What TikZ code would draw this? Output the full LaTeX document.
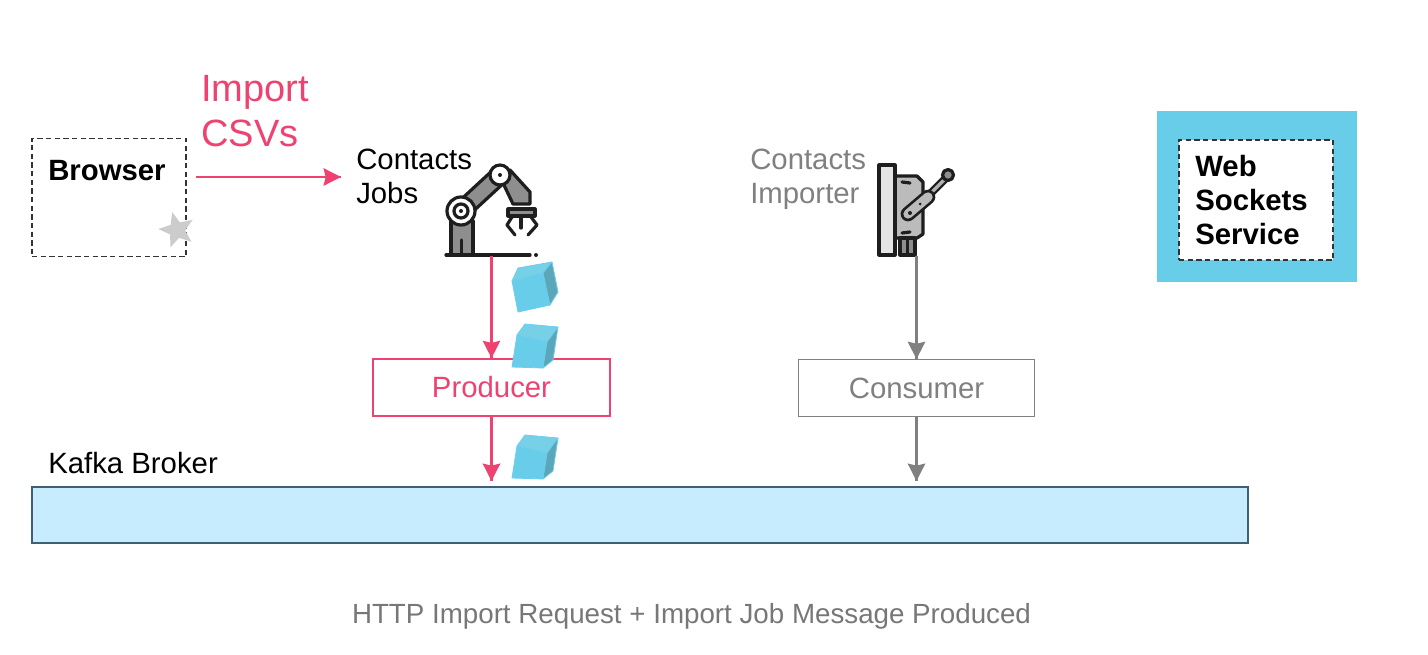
\documentclass[tikz,border=0pt]{standalone}
\usepackage{fontspec}
\setmainfont{Liberation Sans}
\usepackage{tikz}
\usetikzlibrary{arrows.meta,decorations.markings,shapes.geometric}
\definecolor{hotpink}{HTML}{EE4270}
\definecolor{midgray}{HTML}{808080}
\definecolor{capgray}{HTML}{777777}
\definecolor{skyblue}{HTML}{67CDE8}
\definecolor{cubetop}{HTML}{76D0E6}
\definecolor{cubeside}{HTML}{5BA6B8}
\definecolor{cubeedge}{HTML}{6CCDF2}
\definecolor{kafkablue}{HTML}{C7ECFD}
\definecolor{kafkaedge}{HTML}{3F5F73}
\definecolor{iconink}{HTML}{1E1E1E}
\definecolor{icongray}{HTML}{8E8E8E}
\tikzstyle{label}=[inner sep=0pt, font=\fontsize{22pt}{25.5pt}\selectfont, align=left]
\tikzstyle{dashbox}=[draw=black!80, dashed, dash pattern=on 4pt off 2.5pt, line width=0.8pt, fill=white]
\tikzstyle{stagebox}=[draw, inner sep=0pt, minimum width=177.5pt, minimum height=42.5pt, font=\fontsize{22pt}{25pt}\selectfont]
\tikzstyle{pinkline}=[color=hotpink, line width=1.9pt]
\tikzstyle{grayline}=[color=midgray, line width=1.9pt]
\tikzstyle{ink}=[draw=iconink, line width=2.4pt, line join=round, line cap=round]
\tikzstyle{cubeface}=[draw=cubeedge, line width=0.6pt, line join=round]
\tikzset{
    cubeshape/.pic={
        \draw[cubeface, fill=skyblue] (0,0) -- (30,7) -- (26,33) -- (-5,32) -- cycle;
        \draw[cubeface, fill=cubetop] (0,0) -- (8,-11) -- (41,-8) -- (30,7) -- cycle;
        \draw[cubeface, fill=cubeside] (30,7) -- (41,-8) -- (36,25) -- (26,33) -- cycle;
    },
    tiltcube/.pic={
        \draw[cubeface, fill=skyblue] (0,0) -- (31,-8) -- (38,24) -- (6,31) -- cycle;
        \draw[cubeface, fill=cubetop] (0,0) -- (6,-13) -- (40,-19) -- (31,-8) -- cycle;
        \draw[cubeface, fill=cubeside] (31,-8) -- (40,-19) -- (46,11) -- (38,24) -- cycle;
    }
}
\begin{document}
\begin{tikzpicture}[x=0.75pt, y=-0.75pt,
    every edge/.style={
        draw,
        postaction={decorate,
                    decoration={markings,mark=at position 1 with {\arrow{Stealth[length=13pt,width=13pt,inset=1.5pt]}}}
                   }
        }
]
\useasboundingbox (0,0) rectangle (1428,654);
% boxes
\node[draw=kafkaedge, line width=1pt, fill=kafkablue, inner sep=0pt, minimum width=912pt, minimum height=42pt] (kafka) at (640,515) {};
\node[stagebox, draw=hotpink, line width=1.5pt, text=hotpink] (producer) at (491.5,387.5) {Producer};
\node[stagebox, draw=midgray, line width=0.8pt, text=midgray] (consumer) at (916.5,388) {Consumer};
\node[dashbox, inner sep=0pt, minimum width=115.5pt, minimum height=89pt] (browser) at (109,197.5) {};
\node[fill=skyblue, inner sep=0pt, minimum width=150pt, minimum height=128pt] (wsback) at (1257,196.5) {};
\node[dashbox, inner sep=0pt, minimum width=115.5pt, minimum height=90pt] (wsbox) at (1256,200) {};
\node[star, star points=5, star point ratio=2.3, fill=black!20, inner sep=0pt, minimum size=28pt, rotate=15] (browserstar) at (177,230) {};
% texts
\node[label, anchor=base west] (browsertext) at (48,180) {\bfseries Browser};
\node[label, anchor=north west, text=hotpink, font=\fontsize{28.5pt}{33.5pt}\selectfont] (importtext) at (201,75) {Import\\CSVs};
\node[label, anchor=north west] (jobstext) at (356,149) {Contacts\\Jobs};
\node[label, anchor=north west, text=midgray] (importertext) at (750,149) {Contacts\\Importer};
\node[label, anchor=north west] (wstext) at (1195,155) {\bfseries Web\\\bfseries Sockets\\\bfseries Service};
\node[label, anchor=base west] (kafkatext) at (48,473) {Kafka Broker};
\node[label, anchor=base, text=capgray, font=\fontsize{20.8pt}{24pt}\selectfont] (caption) at (691.5,623) {HTTP Import Request + Import Job Message Produced};
% robot arm
\draw[ink, fill=icongray] (451,255) -- (451,221) -- (473,221) -- (473,255);
\draw[ink] (461.5,255) -- (461.5,240);
\draw[ink, fill=icongray] (455,205) -- (494,169) -- (506,181) -- (467,217) -- cycle;
\draw[ink, fill=icongray] (510,170) -- (530,192) -- (530,204) -- (513,204) -- (503,183) -- cycle;
\draw[ink, fill=white] (461,211) circle (14);
\draw[ink, fill=white] (461,211) circle (7);
\fill[iconink] (461,211) circle (2);
\draw[ink, fill=white] (500,175) circle (10);
\fill[iconink] (500,175) circle (2);
\draw[ink, fill=icongray] (508,209) rectangle (535,216);
\draw[ink] (512,217) -- (507,225) -- (515,235);
\draw[ink] (531,217) -- (537,225) -- (528,235);
\draw[ink] (521,217) -- (521,228);
\draw[ink] (446,255) -- (530,255);
\fill[iconink] (536,255) circle (2);
% switch
\draw[ink, fill=icongray!60] (895,176) -- (917,176) -- (923,182) -- (923,234) -- (917,238) -- (895,238) -- cycle;
\draw[ink, fill=icongray] (900,238) rectangle (915,255);
\draw[ink] (907.5,240) -- (907.5,255);
\draw[ink, fill=black!10] (879,165) rectangle (895,255);
\draw[iconink, line width=6pt, line cap=round] (928,196) -- (946,178);
\draw[icongray!70, line width=2.5pt] (930,194) -- (946,178);
\draw[ink, fill=icongray] (948,175) circle (5.5);
\draw[iconink, line width=11pt, line cap=round] (908,214) -- (928,197);
\draw[icongray!60, line width=7pt, line cap=round] (908,214) -- (928,197);
\fill[iconink] (910,213) circle (2) (920,204) circle (1.5);
\draw[ink] (902,182) -- (910,183);
\draw[ink] (902,233) -- (910,232);
% anchors of the free ends
\coordinate (browserout) at (196,177);
\coordinate (jobsin) at (341,177);
\coordinate (robotfoot) at (491.5,256);
\coordinate (kafkain) at (491.5,481);
\coordinate (switchfoot) at (916.5,256);
\coordinate (kafkaout) at (916.5,481);
\path
(browserout) edge[pinkline] (jobsin)
(robotfoot) edge[pinkline] (producer.north)
(producer.south) edge[pinkline] (kafkain)
(switchfoot) edge[grayline] (consumer.north)
(consumer.south) edge[grayline] (kafkaout)
;
% cubes
\pic at (512,281) {tiltcube};
\pic at (517,335) {cubeshape};
\pic at (517,446) {cubeshape};
\end{tikzpicture}
\end{document}
